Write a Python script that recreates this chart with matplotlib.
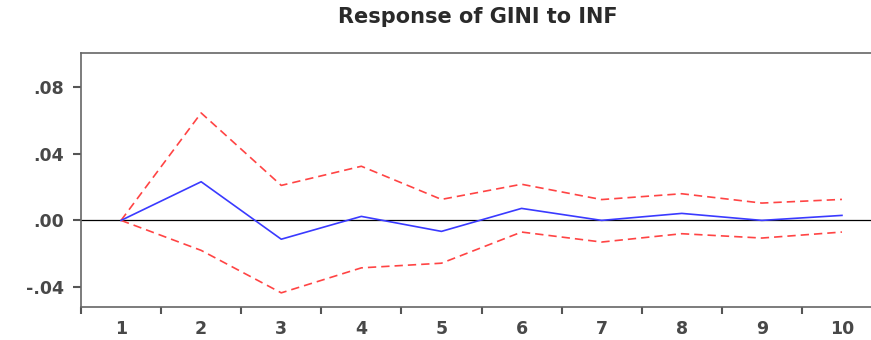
import matplotlib

matplotlib.use("Agg")
import matplotlib.pyplot as plt
from matplotlib.ticker import FixedLocator, FixedFormatter

periods = [1, 2, 3, 4, 5, 6, 7, 8, 9, 10]
response = [0.0, 0.0232, -0.0113, 0.0024, -0.0066, 0.0072, 0.0, 0.0042, 0.0, 0.003]
upper = [0.0, 0.0645, 0.021, 0.0325, 0.0126, 0.0217, 0.0125, 0.016, 0.0104, 0.0126]
lower = [0.0, -0.018, -0.0435, -0.0285, -0.0257, -0.007, -0.013, -0.008, -0.0106, -0.007]
y_ticks = [-0.04, 0.0, 0.04, 0.08]
y_labels = ["-.04", ".00", ".04", ".08"]

plt.rcParams["font.family"] = ["DejaVu Sans"]
plt.rcParams["font.weight"] = "bold"

fig = plt.figure(figsize=(8.71, 3.40), dpi=100)
ax = fig.add_axes([81 / 871, 1 - 307 / 340, 801 / 871, 254 / 340])

ax.axhline(0, color="black", lw=0.9)
ax.plot(periods, upper, color="#ff4444", lw=1.2, ls=(0, (5, 3)))
ax.plot(periods, lower, color="#ff4444", lw=1.2, ls=(0, (5, 3)))
ax.plot(periods, response, color="#3a3aff", lw=1.2)

ax.set_xlim(0.5, 10.5)
ax.set_ylim(-0.052, 0.1005)

ax.xaxis.set_major_locator(FixedLocator(periods))
ax.xaxis.set_major_formatter(FixedFormatter([str(p) for p in periods]))
ax.xaxis.set_minor_locator(FixedLocator([p - 0.5 for p in periods]))
ax.tick_params(axis="x", which="major", length=0, pad=9, labelsize=12.5, labelcolor="#484848")
ax.tick_params(axis="x", which="minor", length=5, width=1.5, color="#555555", direction="out")

ax.set_yticks(y_ticks)
ax.set_yticklabels(y_labels)
ax.tick_params(axis="y", length=6, width=1.5, color="#555555", direction="out", pad=6,
               labelsize=12.5, labelcolor="#484848")

for s in ax.spines.values():
    s.set_color("#666666")
    s.set_linewidth(1.2)

fig.text(478 / 871, 1 - 17 / 340, "Response of GINI to INF", ha="center", va="center",
         fontsize=15, color="#2a2a2a")

fig.savefig("out.png", dpi=100)
